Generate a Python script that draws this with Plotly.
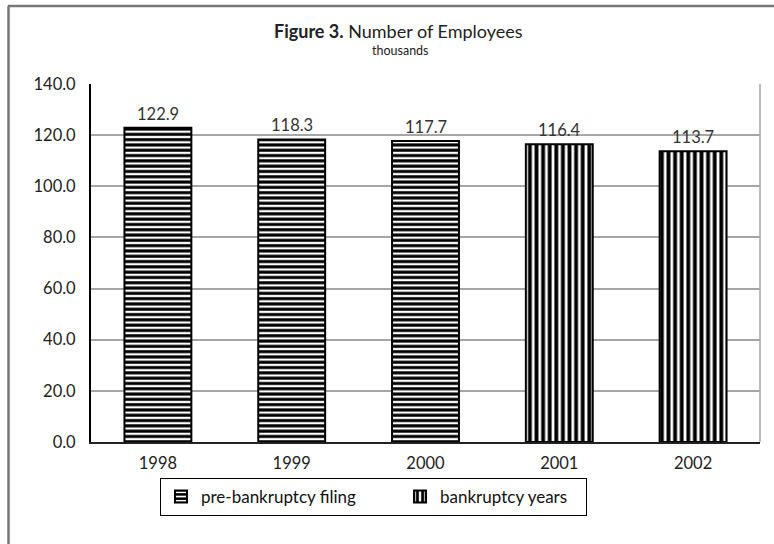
import plotly.graph_objects as go

years = ["1998", "1999", "2000", "2001", "2002"]
pre_years = ["1998", "1999", "2000"]
pre_values = [122.9, 118.3, 117.7]
bk_years = ["2001", "2002"]
bk_values = [116.4, 113.7]
y_ticks = [0, 20, 40, 60, 80, 100, 120, 140]

FONT = "Lato"
W, H = 774, 544
L, R, T, B = 91, 14, 84, 102
pw, ph = W - L - R, H - T - B

def px_x(x):
    return (x - L) / pw

def px_y(y):
    return (H - B - y) / ph

fig = go.Figure()
fig.add_trace(go.Bar(
    x=pre_years, y=pre_values, name="pre-bankruptcy filing" + "\u00a0" * 9,
    width=0.5,
    marker=dict(color="white", line=dict(color="black", width=2),
                pattern=dict(shape="-", fgcolor="black", bgcolor="white",
                             size=5.3, solidity=0.58, fillmode="replace")),
))
fig.add_trace(go.Bar(
    x=bk_years, y=bk_values, name="bankruptcy years" + "\u00a0" * 3,
    width=0.5,
    marker=dict(color="white", line=dict(color="black", width=2),
                pattern=dict(shape="|", fgcolor="black", bgcolor="white",
                             size=6.6, solidity=0.58, fillmode="replace")),
))

value_annotations = [
    dict(x=years.index(xv), y=yv, text=f"{yv:.1f}", xref="x", yref="y",
         showarrow=False, yanchor="bottom", yshift=2,
         font=dict(family=FONT, size=16.5, color="#333"))
    for xv, yv in zip(pre_years + bk_years, pre_values + bk_values)
]

fig.update_layout(
    width=W, height=H,
    margin=dict(l=L, r=R, t=T, b=B, pad=0),
    paper_bgcolor="white", plot_bgcolor="white",
    barmode="overlay",
    font=dict(family=FONT, size=16.5, color="#222"),
    showlegend=True,
    legend=dict(orientation="h", x=px_x(373.5), xanchor="center",
                y=px_y(478), yanchor="top",
                bordercolor="black", borderwidth=1,
                font=dict(family=FONT, size=17, color="#111"),
                itemwidth=30, traceorder="normal"),
    xaxis=dict(type="category", categoryorder="array", categoryarray=years,
               range=[-0.5, len(years) - 0.5],
               showline=True, linecolor="#222", linewidth=2,
               ticks="", ticklabelstandoff=5,
               tickfont=dict(family=FONT, size=16.5, color="#222"),
               showgrid=False, zeroline=False),
    yaxis=dict(range=[0, 140], tickvals=y_ticks, tickformat=".1f",
               showline=True, linecolor="black", linewidth=2,
               gridcolor="#a6a6a6", gridwidth=1.5, zeroline=False,
               ticks="", ticklabelstandoff=10,
               tickfont=dict(family=FONT, size=16.5, color="#222")),
    shapes=[
        dict(type="line", xref="paper", yref="paper", x0=1, x1=1, y0=0, y1=1,
             line=dict(color="#a6a6a6", width=1.5)),
        dict(type="line", xref="paper", yref="paper", x0=px_x(8), x1=px_x(774),
             y0=px_y(6), y1=px_y(6), line=dict(color="#777", width=2.5)),
        dict(type="line", xref="paper", yref="paper", x0=px_x(8.5), x1=px_x(8.5),
             y0=px_y(6), y1=px_y(544), line=dict(color="#777", width=2.5)),
    ],
    annotations=value_annotations + [
        dict(text="<b>Figure 3.</b> Number of Employees", xref="paper", yref="paper",
             x=px_x(398), y=px_y(31), xanchor="center", yanchor="middle",
             showarrow=False, font=dict(family=FONT, size=18, color="#222")),
        dict(text="thousands", xref="paper", yref="paper",
             x=px_x(400), y=px_y(50), xanchor="center", yanchor="middle",
             showarrow=False, font=dict(family=FONT, size=12.5, color="#222")),
    ],
)

fig.write_html("out.html")
